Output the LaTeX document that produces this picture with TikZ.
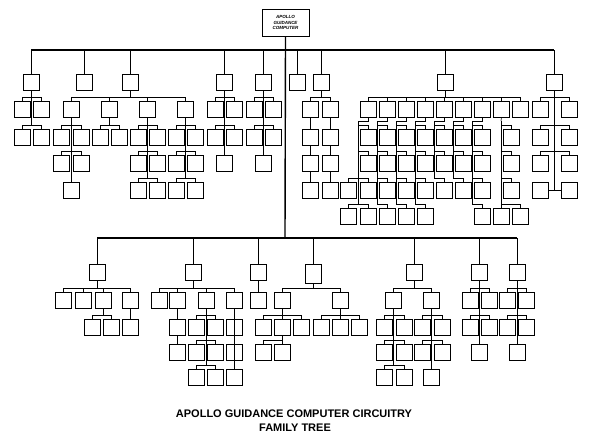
\documentclass[tikz,border=0pt]{standalone}
\usepackage{fontspec}
\setmainfont{Liberation Sans}
\tikzset{
  blk/.style={draw,line width=0.8pt,minimum width=16pt,minimum height=16pt,
    inner sep=0pt,anchor=north west},
  topbox/.style={draw,line width=0.9pt,minimum width=47pt,minimum height=27pt,
    inner sep=1pt,align=center,font=\fontsize{4.5}{5.5}\selectfont\bfseries\itshape},
  wire/.style={line width=0.6pt},
  bus/.style={line width=1.4pt},
  titletext/.style={font=\fontsize{11}{13}\selectfont\bfseries},
}
\newcommand{\agcbox}[3]{\node[blk] (#1) at (#2,#3) {};}
% parent bottom -> bracket -> child top
\newcommand{\link}[2]{\draw[wire] (#1.south) |- ([yshift=4pt]#2.north) -- (#2.north);}
% spine coordinate -> child top
\newcommand{\spinelink}[2]{\draw[wire] (#1) |- ([yshift=4pt]#2.north) -- (#2.north);}
\begin{document}
\begin{tikzpicture}[x=1pt,y=-1pt]
  \useasboundingbox (0,0) rectangle (600,436);

  \node[topbox] (agc) at (285.5,22.5) {APOLLO\\GUIDANCE\\COMPUTER};
  \coordinate (ubus) at (285,50);
  \coordinate (lbus) at (285,238);
  \draw[bus] (agc.south) -- (lbus);

  % upper family
  \foreach \n/\x in {u1/23,u2/76,u3/122,u4/216,u5/255,u6/289,u7/313,u8/437,u9/546}
  {
    \agcbox{\n}{\x}{74}
    \draw[wire] (\n.north) -- (\n.north |- ubus);
  }
  \draw[bus] (u1.north |- ubus) -- (u9.north |- ubus);

  \foreach \n/\x/\y in {a1/14/101,a2/33/101,a3/14/129,a4/33/129}
  {
    \agcbox{\n}{\x}{\y}
    \link{u1}{\n}
  }

  \foreach \n/\x in {c1/63,c2/101,c3/139,c4/177}
  {
    \agcbox{\n}{\x}{101}
    \link{u3}{\n}
  }
  \foreach \r/\y in {3/129,4/155}
  {
    \agcbox{c1a\r}{53}{\y} \agcbox{c1b\r}{73}{\y}
    \link{c1}{c1a\r} \link{c1}{c1b\r}
  }
  \agcbox{c1e}{63}{182} \link{c1}{c1e}
  \agcbox{c2a}{92}{129} \agcbox{c2b}{111}{129}
  \link{c2}{c2a} \link{c2}{c2b}
  \foreach \r/\y in {3/129,4/155,5/182}
  {
    \agcbox{c3a\r}{130}{\y} \agcbox{c3b\r}{149}{\y}
    \link{c3}{c3a\r} \link{c3}{c3b\r}
    \agcbox{c4a\r}{168}{\y} \agcbox{c4b\r}{187}{\y}
    \link{c4}{c4a\r} \link{c4}{c4b\r}
  }

  \foreach \n/\x/\y in {d1/207/101,d2/226/101,d3/207/129,d4/226/129,d5/216/155}
  {
    \agcbox{\n}{\x}{\y}
    \link{u4}{\n}
  }
  \foreach \n/\x/\y in {e1/246/101,e2/265/101,e3/246/129,e4/265/129,e5/255/155}
  {
    \agcbox{\n}{\x}{\y}
    \link{u5}{\n}
  }

  \foreach \g/\x in {g1/302,g2/322}
  {
    \agcbox{\g}{\x}{101} \link{u7}{\g}
    \agcbox{\g-3}{\x}{129} \link{\g}{\g-3}
    \agcbox{\g-4}{\x}{155} \link{\g-3}{\g-4}
    \agcbox{\g-5}{\x}{182} \link{\g-4}{\g-5}
  }

  \foreach \i [evaluate=\i as \x using int(341+19*\i)] in {1,...,9}
  {
    \agcbox{h\i}{\x}{101}
    \link{u8}{h\i}
  }
  \foreach \i/\x in {1/360,2/379,3/398,4/417,5/436,6/455,7/474}
  {
    \coordinate (hs\i) at (\x-2,121);
    \draw[wire] (h\i.south) |- (hs\i);
    \foreach \r/\y in {3/129,4/155,5/182}
    {
      \agcbox{h\i-\r}{\x}{\y}
      \spinelink{hs\i}{h\i-\r}
    }
  }
  \foreach \i/\x in {1/360,2/379,3/398,4/417,7/474}
  {
    \agcbox{h\i-6}{\x}{208}
    \spinelink{hs\i}{h\i-6}
  }
  \agcbox{h1-5b}{340}{182} \spinelink{hs1}{h1-5b}
  \agcbox{h1-6b}{340}{208} \spinelink{hs1}{h1-6b}
  \coordinate (hs8) at (501,121);
  \draw[wire] (h8.south) -- (hs8);
  \foreach \r/\y in {3/129,4/155,5/182}
  {
    \agcbox{h8-\r}{503}{\y}
    \spinelink{hs8}{h8-\r}
  }
  \agcbox{h8-6}{493}{208} \spinelink{hs8}{h8-6}
  \agcbox{h8-6b}{512}{208} \spinelink{hs8}{h8-6b}

  \foreach \n/\x/\y in {i1/532/101,i2/561/101,i3/532/129,i4/561/129,i5/532/155,i6/561/155}
  {
    \agcbox{\n}{\x}{\y}
    \link{u9}{\n}
  }
  \agcbox{i7}{532}{182} \agcbox{i8}{561}{182}
  \draw[wire] (u9.south) |- (i8.west);
  \draw[wire] (i7.east) -- (i8.west);

  % lower family
  \foreach \n/\x in {l1/89,l2/185,l3/250,l5/406,l6/471,l7/509}
  {
    \agcbox{\n}{\x}{264}
  }
  \node[blk,minimum height=19pt] (l4) at (305,264) {};
  \foreach \n in {l1,l2,l3,l4,l5,l6,l7}
  {
    \draw[wire] (\n.north) -- (\n.north |- lbus);
  }
  \draw[bus] (l1.north |- lbus) -- (l7.north |- lbus);

  \foreach \n/\x in {m1/55,m2/75,m3/95,m4/122}
  {
    \agcbox{\n}{\x}{292}
    \link{l1}{\n}
  }
  \agcbox{m3a}{84}{319} \agcbox{m3b}{103}{319}
  \link{m3}{m3a} \link{m3}{m3b}
  \agcbox{m4a}{122}{319} \link{m4}{m4a}

  \foreach \n/\x in {n1/151,n2/169,n3/198,n4/226}
  {
    \agcbox{\n}{\x}{292}
    \link{l2}{\n}
  }
  \agcbox{n2a}{169}{319} \link{n2}{n2a}
  \agcbox{n2b}{169}{344} \link{n2a}{n2b}
  \foreach \r/\y in {3/319,4/344,5/369}
  {
    \agcbox{n3a\r}{188}{\y} \agcbox{n3b\r}{207}{\y}
    \link{n3}{n3a\r} \link{n3}{n3b\r}
    \agcbox{n4a\r}{226}{\y} \link{n4}{n4a\r}
  }

  \agcbox{o1}{250}{292} \link{l3}{o1}

  \agcbox{p1}{274}{292} \agcbox{p2}{332}{292}
  \link{l4}{p1} \link{l4}{p2}
  \foreach \n/\x in {p1a/255,p1b/274,p1c/293}
  {
    \agcbox{\n}{\x}{319}
    \link{p1}{\n}
  }
  \agcbox{p1d}{255}{344} \agcbox{p1e}{274}{344}
  \link{p1b}{p1d} \link{p1b}{p1e}
  \foreach \n/\x in {p2a/313,p2b/332,p2c/351}
  {
    \agcbox{\n}{\x}{319}
    \link{p2}{\n}
  }

  \agcbox{q1}{385}{292} \agcbox{q2}{423}{292}
  \link{l5}{q1} \link{l5}{q2}
  \foreach \r/\y in {3/319,4/344,5/369}
  {
    \agcbox{q1a\r}{376}{\y} \agcbox{q1b\r}{396}{\y}
    \link{q1}{q1a\r} \link{q1}{q1b\r}
  }
  \foreach \r/\y in {3/319,4/344}
  {
    \agcbox{q2a\r}{414}{\y} \agcbox{q2b\r}{434}{\y}
    \link{q2}{q2a\r} \link{q2}{q2b\r}
  }
  \agcbox{q2c}{423}{369} \link{q2}{q2c}

  \foreach \n/\x/\y in {r1/462/292,r2/481/292,r3/462/319,r4/481/319,r5/471/344}
  {
    \agcbox{\n}{\x}{\y}
    \link{l6}{\n}
  }
  \foreach \n/\x/\y in {s1/499/292,s2/518/292,s3/499/319,s4/518/319,s5/509/344}
  {
    \agcbox{\n}{\x}{\y}
    \link{l7}{\n}
  }

  \node[titletext] (title1) at (294,414) {APOLLO GUIDANCE COMPUTER CIRCUITRY};
  \node[titletext] (title2) at (295,428) {FAMILY TREE};
\end{tikzpicture}
\end{document}
